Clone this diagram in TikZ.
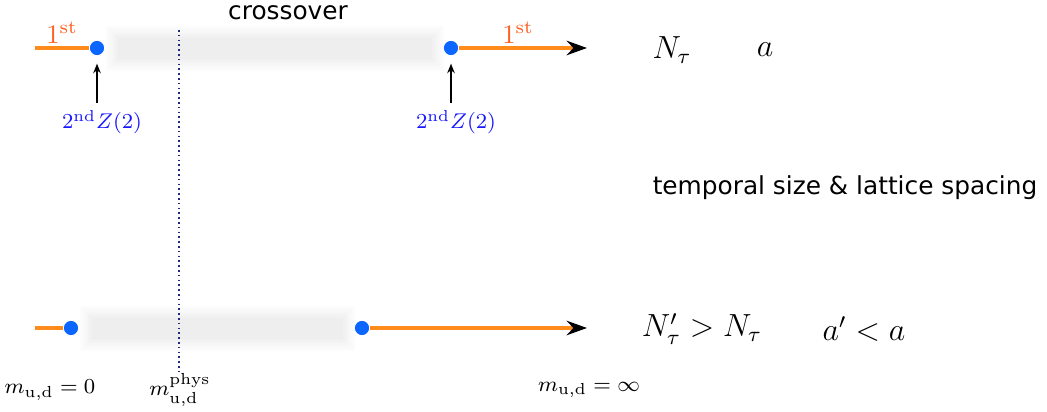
\documentclass[tikz,border=0pt]{standalone}
\usepackage{fontspec}
\newfontfamily\dejavu{DejaVu Sans}
\usetikzlibrary{arrows.meta}
\definecolor{lineorange}{HTML}{FF8C1A}
\definecolor{laborange}{HTML}{FF5F1F}
\definecolor{dotblue}{HTML}{0A66FF}
\definecolor{labblue}{HTML}{1A1AFF}
\definecolor{navy}{HTML}{1A2A80}
\tikzset{
  dot/.style={circle,fill=dotblue,inner sep=0pt,minimum size=5.3pt},
  orangeline/.style={draw=lineorange,line width=1.3pt},
  orangearrow/.style={orangeline,-{Stealth[length=7.6pt,width=5.4pt,black]}},
  smallarrow/.style={draw=black,line width=0.6pt,shorten >=3pt,-{Stealth[length=3.6pt,width=2.8pt]}},
  ordlab/.style={text=laborange,font=\fontsize{10}{12}\selectfont,inner sep=0pt},
  zlab/.style={text=labblue,font=\fontsize{8.5}{10}\selectfont,inner sep=0pt},
  mathlab/.style={font=\fontsize{11.7}{14}\selectfont,inner sep=0pt},
  mlab/.style={font=\fontsize{8}{10}\selectfont,inner sep=0pt},
  sans/.style={font=\dejavu\fontsize{9.3}{11}\selectfont,inner sep=0pt},
  phys/.style={draw=navy,line width=0.45pt,dash pattern=on 0.6pt off 1.2pt}
}
\begin{document}
\begin{tikzpicture}[x=0.375pt,y=-0.375pt]
\useasboundingbox (0,0) rectangle (1047,412);
% blurred bands
\foreach \e/\c in {12/1.2,10/2,8/2.8,6/3.6,4/4.6,2/5.6,0/6.6}{
  \fill[black!\c] (118-\e,38-\e) rectangle (432+\e,59+\e);
  \fill[black!\c] (92-\e,318-\e) rectangle (343+\e,339+\e);
}
% top line
\coordinate (tl) at (35,48);
\node[dot] (d1) at (97,48) {};
\node[dot] (d2) at (451,48) {};
\coordinate (tr) at (587,48);
\draw[orangeline] (tl) -- (d1.west);
\draw[orangearrow] (d2.east) -- (tr);
\node[ordlab] (o1) at (62,33) {$1^{\mathrm{st}}$};
\node[ordlab] (o2) at (518,33) {$1^{\mathrm{st}}$};
\node[sans] (cross) at (288,13) {crossover};
% Z(2) labels
\node[zlab] (z1) at (102,122) {$2^{\mathrm{nd}}Z(2)$};
\node[zlab] (z2) at (456,122) {$2^{\mathrm{nd}}Z(2)$};
\coordinate (a1) at (97,103);
\coordinate (a2) at (451,103);
\draw[smallarrow] (a1) -- (d1.south);
\draw[smallarrow] (a2) -- (d2.south);
% right labels top
\node[mathlab] (nt) at (672,50) {$N_\tau$};
\node[mathlab] (aa) at (765,50) {$a$};
\node[sans] (temp) at (845,188) {temporal size \& lattice spacing};
% bottom line
\coordinate (bl) at (35,328);
\node[dot] (d3) at (71,328) {};
\node[dot] (d4) at (362,328) {};
\coordinate (br) at (587,328);
\draw[orangeline] (bl) -- (d3.west);
\draw[orangearrow] (d4.east) -- (br);
\node[mathlab] (nt2) at (702,329) {$N'_\tau > N_\tau$};
\node[mathlab] (aa2) at (864,329) {$a' < a$};
% physical mass line
\coordinate (pt) at (179,30);
\coordinate (pb) at (179,372);
\draw[phys] (pt) -- (pb);
% bottom labels
\node[mlab] (m0) at (50,390) {$m_{\mathrm{u,d}}=0$};
\node[mlab] (mp) at (180,390) {$m_{\mathrm{u,d}}^{\mathrm{phys}}$};
\node[mlab] (mi) at (589,390) {$m_{\mathrm{u,d}}=\infty$};
\end{tikzpicture}
\end{document}
